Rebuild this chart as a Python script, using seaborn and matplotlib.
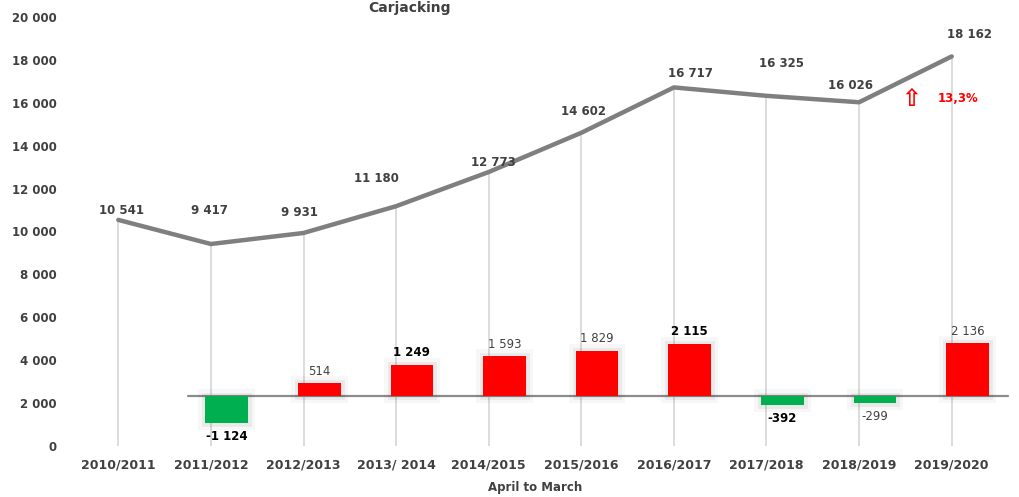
import numpy as np
import pandas as pd
import matplotlib
matplotlib.use("Agg")
import matplotlib.pyplot as plt
import matplotlib.patheffects as pe
import seaborn as sns

# Carjacking counts, April to March
periods = ["2010/2011", "2011/2012", "2012/2013", "2013/ 2014", "2014/2015",
           "2015/2016", "2016/2017", "2017/2018", "2018/2019", "2019/2020"]
totals = [10541, 9417, 9931, 11180, 12773, 14602, 16717, 16325, 16026, 18162]
changes = [np.nan, -1124, 514, 1249, 1593, 1829, 2115, -392, -299, 2136]
bold_change = [False, True, False, True, False, False, True, True, False, False]

# label nudges (pixels) for the totals, to sit like the original
label_dx = [3, -1, -4, -20, 5, 2, 17, 15, -9, 18]
label_dy = [9, 34, 20, 28, 10, 21, 14, 32, 17, 22]

TEXT = "#404040"
LINE = "#7f7f7f"
RED = "#ff0000"
GREEN = "#00b050"


def fmt(v):
    return f"{int(v):,}".replace(",", " ")


sns.set_theme(style="white")
plt.rcParams["font.family"] = ["DejaVu Sans"]

fig = plt.figure(figsize=(10.2, 4.97), dpi=100)
ax = fig.add_axes([72 / 1020, 51 / 497, 926 / 1020, 429 / 497])
x = np.arange(len(periods))
df = pd.DataFrame({"x": x, "total": totals, "change": changes})

# drop lines from each point down to zero
ax.vlines(df["x"], 0, df["total"], color="#d9d9d9", lw=1.3, zorder=0)
sns.lineplot(data=df, x="x", y="total", ax=ax, color=LINE, lw=3.2, zorder=3)

for xi, v, dx, dy in zip(x, totals, label_dx, label_dy):
    ax.annotate(fmt(v), (xi, v), xytext=(dx, dy), textcoords="offset pixels",
                ha="center", va="center", fontsize=8.5, fontweight="bold",
                color=TEXT)

ax.set_xlim(-0.5, len(periods) - 0.5)
ax.set_ylim(0, 20000)
ax.set_yticks(np.arange(0, 20001, 2000))
ax.set_yticklabels([fmt(t) for t in range(0, 20001, 2000)])
ax.set_xticks(x)
ax.set_xticklabels(periods)
ax.tick_params(axis="both", length=0, labelcolor=TEXT)
ax.tick_params(axis="y", pad=11, labelsize=8.5)
ax.tick_params(axis="x", pad=9, labelsize=9)
for lab in ax.get_xticklabels() + ax.get_yticklabels():
    lab.set_fontweight("bold")
ax.set_xlabel("April to March", fontsize=8.5, fontweight="bold", color=TEXT,
              labelpad=7)
ax.set_ylabel("")
for s in ax.spines.values():
    s.set_visible(False)

# change bars on a secondary scale, zero sitting at ~2 350
ax2 = ax.twinx()
base, ratio = 2345, 1.15
ax2.set_ylim(-base / ratio, (20000 - base) / ratio)
ax2.axis("off")
ax2.axhline(0, xmin=0.125, xmax=1.011, color="#8c8c8c", lw=1.6, zorder=1,
            clip_on=False)

offset = 0.17
bar_df = df.dropna(subset=["change"])
colors = [RED if c > 0 else GREEN for c in bar_df["change"]]
bars = ax2.bar(bar_df["x"] + offset, bar_df["change"], width=0.46,
               color=colors, edgecolor="none", linewidth=0, zorder=2)
for b in bars:
    b.set_path_effects([
        pe.Stroke(linewidth=10, foreground="black", alpha=0.03),
        pe.Stroke(linewidth=5, foreground="black", alpha=0.05),
        pe.Normal(),
    ])

for xi, c, bold in zip(x, changes, bold_change):
    if np.isnan(c):
        continue
    dy = 12 if c > 0 else -13
    ax2.annotate(fmt(c), (xi + offset, c), xytext=(0, dy),
                 textcoords="offset pixels", ha="center", va="center",
                 fontsize=8.5, fontweight="bold" if bold else "normal",
                 color="black" if bold else TEXT)

# year-on-year increase for the last period
pct = (totals[-1] - totals[-2]) / totals[-2] * 100
ax.text(8.56, 16180, "\u21e7", color=RED, fontsize=17, fontweight="bold",
        ha="center", va="center")
ax.text(9.07, 16180, f"{pct:.1f}%".replace(".", ","), color=RED,
        fontsize=8.5, fontweight="bold", ha="center", va="center")

fig.text(410 / 1020, 1 - 8 / 497, "Carjacking", ha="center", va="center",
         fontsize=10, fontweight="bold", color=TEXT)

fig.savefig("out.png", dpi=100, facecolor="white")
